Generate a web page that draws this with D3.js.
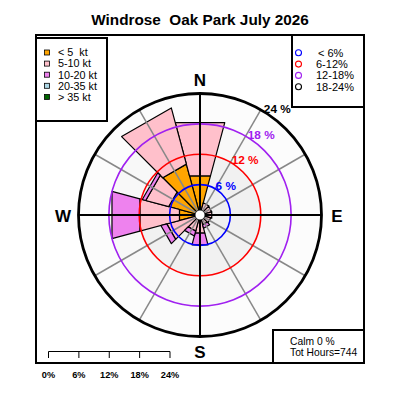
<!DOCTYPE html>
<html>

<head>
  <meta charset="utf-8">
  <title>windrose</title>
  <style>
    * {
      padding: 0;
      margin: 0;
    }

    body {
      width: 400px;
      height: 400px;
      background: #fff;
      font-family: "Liberation Sans", Arial, sans-serif;
    }
  </style>
</head>

<body>
  <svg id="svg"></svg>
  <script src="https://cdnjs.cloudflare.com/ajax/libs/d3/7.8.5/d3.min.js"></script>
  <script>
    // wind direction of each sector (degrees from north)
    const directions = [0, 30, 60, 90, 120, 150, 180, 210, 240, 270, 300, 330];
    // % of hours per speed class, per sector
    const lt5 = [8.0, 0.5, 0.5, 0.5, 0.5, 0.5, 0.6, 0.6, 1.0, 4.2, 6.4, 10.4];
    const kt5to10 = [10.9, 2.0, 1.9, 1.9, 1.7, 1.5, 3.1, 2.7, 5.8, 8.1, 4.7, 11.5];
    const kt10to20 = [0, 0, 0, 0, 0, 0.7, 2.4, 1.0, 1.2, 5.7, 0.7, 0];
    const kt20to35 = [0, 0, 0, 0, 0, 0, 0, 0, 0, 0, 0, 0];
    const gt35 = [0, 0, 0, 0, 0, 0, 0, 0, 0, 0, 0, 0];

    const speedLabels = ['< 5  kt', '5-10 kt', '10-20 kt', '20-35 kt', '> 35 kt'];
    const speedColors = ['orange', 'pink', 'violet', 'lightblue', 'darkgreen'];
    const ringValues = [6, 12, 18, 24];
    const ringLabels = ['< 6%', '6-12%', '12-18%', '18-24%'];
    const ringColors = ['blue', 'red', '#a020f0', 'black'];
    const scaleTicks = [0, 6, 12, 18, 24];
    const compass = [['N', 0], ['E', 90], ['S', 180], ['W', 270]];
    const calmPct = 0;
    const totHours = 744;

    const W = 400, H = 400;
    const cx = 200, cy = 215;
    const halfWidth = 15; // half sector width in degrees

    const svg = d3.select('#svg').attr('width', W).attr('height', H);

    const r = d3.scaleLinear().domain([0, 24]).range([0, 121.5]);
    const pt = (deg, rad) => {
      const a = deg * Math.PI / 180;
      return [cx + rad * Math.sin(a), cy - rad * Math.cos(a)];
    };

    // title
    svg.append('text')
      .attr('x', 200).attr('y', 25)
      .attr('text-anchor', 'middle')
      .style('font-weight', 'bold').style('font-size', '15.3px')
      .attr('xml:space', 'preserve')
      .text('Windrose  Oak Park July 2026');

    // ring background shading
    const shades = ['#fcfcfc', '#f8f8f8', '#f1f1f1', '#efefef'];
    ringValues.slice().reverse().forEach((v, i) => {
      svg.append('circle').attr('cx', cx).attr('cy', cy).attr('r', r(v)).attr('fill', shades[i]);
    });

    // stacked bars
    const keys = ['lt5', 'kt5to10', 'kt10to20', 'kt20to35', 'gt35'];
    const table = directions.map((d, i) => ({
      dir: d, lt5: lt5[i], kt5to10: kt5to10[i], kt10to20: kt10to20[i], kt20to35: kt20to35[i], gt35: gt35[i]
    }));
    const series = d3.stack().keys(keys)(table);

    const bars = svg.append('g').attr('id', 'bars');
    series.forEach((s, k) => {
      bars.selectAll(null)
        .data(s.filter(d => d[1] - d[0] > 0))
        .enter()
        .append('polygon')
        .attr('fill', speedColors[k])
        .attr('stroke', 'black')
        .attr('stroke-width', 1.2)
        .attr('stroke-linejoin', 'round')
        .attr('points', d => {
          const a = d.data.dir;
          return [pt(a - halfWidth, r(d[0])), pt(a - halfWidth, r(d[1])),
          pt(a + halfWidth, r(d[1])), pt(a + halfWidth, r(d[0]))].map(p => p.join(',')).join(' ');
        });
    });

    // spokes
    const spokes = d3.range(0, 360, 30).filter(a => a % 90 !== 0);
    svg.append('g').selectAll('line').data(spokes).enter().append('line')
      .attr('x1', cx).attr('y1', cy)
      .attr('x2', a => pt(a, r(24))[0]).attr('y2', a => pt(a, r(24))[1])
      .attr('stroke', '#888').attr('stroke-width', 1.5);

    // rings
    svg.append('g').selectAll('circle').data(ringValues).enter().append('circle')
      .attr('cx', cx).attr('cy', cy).attr('r', d => r(d))
      .attr('fill', 'none')
      .attr('stroke', (d, i) => ringColors[i])
      .attr('stroke-width', (d, i) => i === 3 ? 2.8 : 1.6);

    // cardinal axes
    compass.forEach(([lab, a]) => {
      const p = pt(a, r(24));
      svg.append('line').attr('x1', cx).attr('y1', cy).attr('x2', p[0]).attr('y2', p[1])
        .attr('stroke', 'black').attr('stroke-width', 2);
    });

    // calm circle
    svg.append('circle').attr('cx', cx).attr('cy', cy).attr('r', 5)
      .attr('fill', 'white').attr('stroke', 'black').attr('stroke-width', 0.8);

    // ring labels
    svg.append('g').selectAll('text').data(ringValues).enter().append('text')
      .attr('x', d => pt(32, r(d) - 1)[0])
      .attr('y', d => pt(32, r(d) - 1)[1])
      .attr('fill', (d, i) => ringColors[i])
      .style('font-weight', 'bold').style('font-size', '11.8px')
      .text(d => d + ' %');

    // compass letters
    const letterPos = { N: [200, 86], S: [200, 358], W: [63, 222], E: [337, 222] };
    compass.forEach(([lab]) => {
      svg.append('text')
        .attr('x', letterPos[lab][0]).attr('y', letterPos[lab][1])
        .attr('text-anchor', 'middle')
        .style('font-weight', 'bold').style('font-size', '17px')
        .text(lab);
    });

    // frame
    svg.append('rect').attr('x', 36).attr('y', 35).attr('width', 328).attr('height', 328)
      .attr('fill', 'none').attr('stroke', 'black').attr('stroke-width', 2);

    // speed legend
    const lg = svg.append('g');
    lg.append('rect').attr('x', 36).attr('y', 38).attr('width', 71).attr('height', 83)
      .attr('fill', 'white').attr('stroke', 'black').attr('stroke-width', 2);
    speedLabels.forEach((t, i) => {
      const y = 52.5 + i * 11.1;
      lg.append('rect').attr('x', 44.5).attr('y', y - 2.5).attr('width', 5).attr('height', 5)
        .attr('fill', speedColors[i]).attr('stroke', 'black').attr('stroke-width', 0.8);
      lg.append('text').attr('x', 58).attr('y', y + 3.8)
        .attr('xml:space', 'preserve')
        .style('font-size', '10.8px').text(t);
    });

    // ring legend
    const rg = svg.append('g');
    rg.append('rect').attr('x', 292).attr('y', 35).attr('width', 72).attr('height', 72)
      .attr('fill', 'white').attr('stroke', 'black').attr('stroke-width', 2);
    ringLabels.forEach((t, i) => {
      const y = 52.8 + i * 11.3;
      rg.append('circle').attr('cx', 298.5).attr('cy', y).attr('r', 3)
        .attr('fill', 'none').attr('stroke', ringColors[i]).attr('stroke-width', 1.1);
      rg.append('text').attr('x', i === 0 ? 318 : 316).attr('y', y + 3.9)
        .style('font-size', '11px').text(t);
    });

    // calm box
    const cb = svg.append('g');
    cb.append('rect').attr('x', 273).attr('y', 330).attr('width', 91).attr('height', 33)
      .attr('fill', 'white').attr('stroke', 'black').attr('stroke-width', 2);
    cb.append('text').attr('x', 290).attr('y', 345).style('font-size', '10.3px').text('Calm ' + calmPct + ' %');
    cb.append('text').attr('x', 290).attr('y', 356).style('font-size', '10.3px').text('Tot Hours=' + totHours);

    // distance scale bar
    const sx = d3.scaleLinear().domain([0, 24]).range([48.5, 48.5 + r(24)]);
    const sb = svg.append('g');
    sb.append('line').attr('x1', sx(0)).attr('x2', sx(24)).attr('y1', 351.5).attr('y2', 351.5)
      .attr('stroke', 'black').attr('stroke-width', 1);
    sb.selectAll('.tk').data(scaleTicks).enter().append('line')
      .attr('x1', d => sx(d)).attr('x2', d => sx(d)).attr('y1', 351.5).attr('y2', 358)
      .attr('stroke', 'black').attr('stroke-width', 1);
    sb.selectAll('.lb').data(scaleTicks).enter().append('text')
      .attr('x', d => sx(d)).attr('y', 378)
      .attr('text-anchor', 'middle')
      .style('font-weight', 'bold').style('font-size', '9.2px')
      .text(d => d + '%');
  </script>

</body>

</html>
